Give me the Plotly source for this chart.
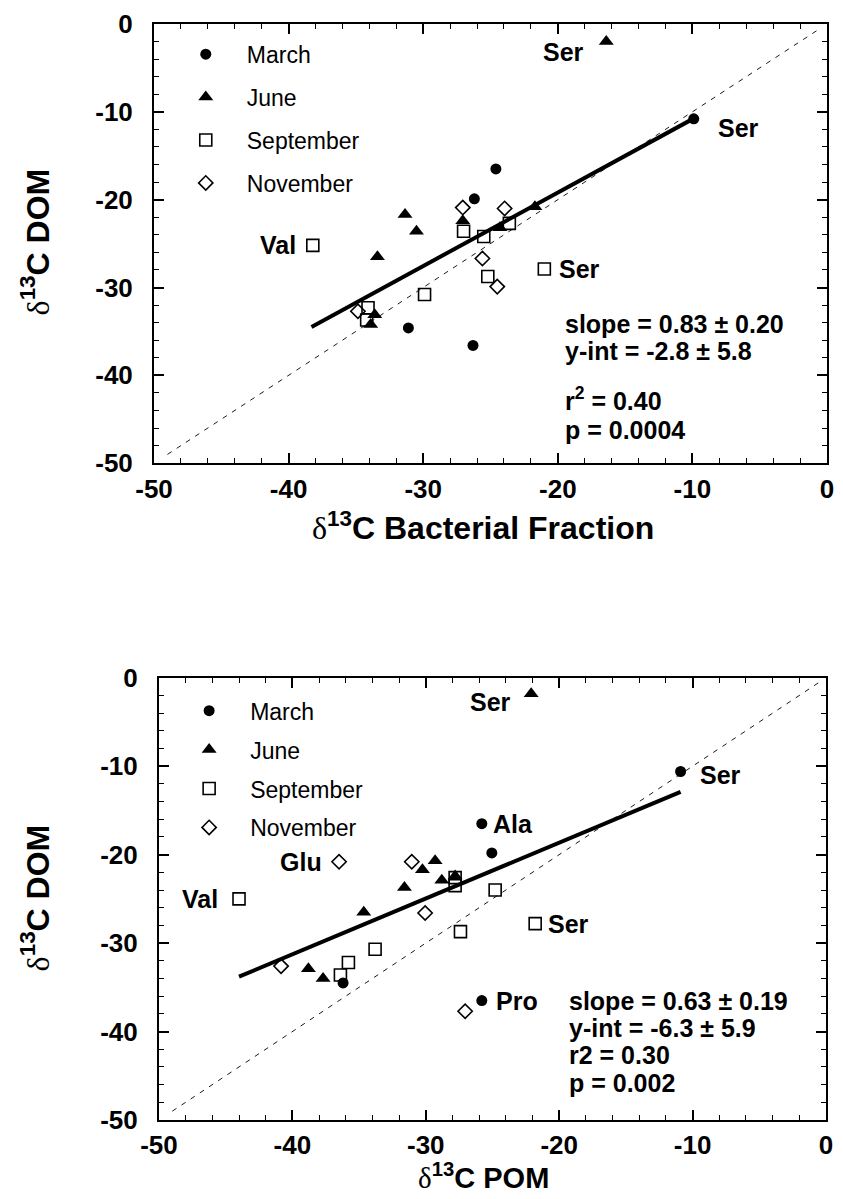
import plotly.graph_objects as go

# ---------------- data: top panel (x = d13C bacterial fraction, y = d13C DOM)
bact_march_x = [-9.9, -24.6, -26.2, -31.1, -26.3]
bact_march_y = [-10.8, -16.5, -19.9, -34.6, -36.6]
bact_june_x = [-16.4, -21.7, -31.35, -30.5, -33.4, -27.06, -24.3, -33.6, -33.9]
bact_june_y = [-2.0, -20.8, -21.7, -23.6, -26.5, -22.4, -23.2, -33.1, -34.2]
bact_sep_x = [-38.2, -21.0, -27.0, -25.5, -23.6, -25.2, -29.9, -34.1, -34.2]
bact_sep_y = [-25.2, -27.9, -23.6, -24.2, -22.7, -28.75, -30.8, -32.3, -33.7]
bact_nov_x = [-27.06, -23.95, -25.6, -24.5, -34.85]
bact_nov_y = [-20.9, -21.0, -26.7, -29.9, -32.7]
bact_fit_x = [-38.3, -10.2]
bact_fit_y = [-34.5, -11.0]

# ---------------- data: bottom panel (x = d13C POM, y = d13C DOM)
pom_march_x = [-10.9, -25.8, -25.05, -36.2, -25.8]
pom_march_y = [-10.6, -16.5, -19.8, -34.5, -36.5]
pom_june_x = [-22.1, -29.3, -30.25, -31.6, -28.8, -27.8, -34.65, -38.8, -37.7]
pom_june_y = [-1.8, -20.7, -21.7, -23.7, -22.9, -22.4, -26.5, -32.9, -34.0]
pom_sep_x = [-44.0, -21.8, -24.8, -27.8, -27.8, -27.4, -33.8, -35.8, -36.4]
pom_sep_y = [-25.0, -27.8, -24.0, -23.5, -22.6, -28.7, -30.7, -32.2, -33.6]
pom_nov_x = [-36.5, -31.05, -30.05, -27.05, -40.85]
pom_nov_y = [-20.8, -20.8, -26.6, -37.7, -32.6]
pom_fit_x = [-44.0, -10.9]
pom_fit_y = [-33.8, -12.9]

one_to_one = [-49.0, -0.5]

months = ["March", "June", "September", "November"]
tick_vals = [-50, -40, -30, -20, -10, 0]
tick_text = ["-50", "-40", "-30", "-20", "-10", "0"]

FONT = "Liberation Sans, Arial, Helvetica, sans-serif"

styles = {
    "March": dict(symbol="circle", size=11, color="black", line=dict(width=0)),
    "June": dict(symbol="triangle-up", size=13, color="black", line=dict(width=0)),
    "September": dict(symbol="square-open", size=12, color="black", line=dict(width=1.6)),
    "November": dict(symbol="diamond-open", size=11, color="black", line=dict(width=1.6)),
}

fig = go.Figure()

def add_panel(xa, ya, legend, series, fit_x, fit_y):
    fig.add_trace(go.Scatter(x=one_to_one, y=one_to_one, mode="lines",
                             line=dict(color="black", width=0.9, dash="5px,6px"),
                             xaxis=xa, yaxis=ya, showlegend=False, hoverinfo="skip"))
    fig.add_trace(go.Scatter(x=fit_x, y=fit_y, mode="lines",
                             line=dict(color="black", width=4),
                             xaxis=xa, yaxis=ya, showlegend=False, hoverinfo="skip"))
    for name, (xs, ys) in zip(months, series):
        fig.add_trace(go.Scatter(x=xs, y=ys, mode="markers", name=name,
                                 marker=styles[name], xaxis=xa, yaxis=ya,
                                 legend=legend, legendgroup=legend + name))

add_panel("x", "y", "legend",
          [(bact_march_x, bact_march_y), (bact_june_x, bact_june_y),
           (bact_sep_x, bact_sep_y), (bact_nov_x, bact_nov_y)],
          bact_fit_x, bact_fit_y)
add_panel("x2", "y2", "legend2",
          [(pom_march_x, pom_march_y), (pom_june_x, pom_june_y),
           (pom_sep_x, pom_sep_y), (pom_nov_x, pom_nov_y)],
          pom_fit_x, pom_fit_y)

axis_common = dict(
    range=[-50, 0], tickvals=tick_vals, ticktext=tick_text,
    ticks="inside", ticklen=10, tickwidth=1.5, tickcolor="black",
    showline=True, linecolor="black", linewidth=2, mirror="ticks",
    showgrid=False, zeroline=False,
    tickfont=dict(family=FONT, size=26, color="black", weight="bold"),
    minor=dict(dtick=2, ticks="inside", ticklen=5, tickwidth=1.3, tickcolor="black", showgrid=False),
)

fig.update_layout(
    width=843, height=1199,
    margin=dict(l=154, r=9, t=22, b=79),
    paper_bgcolor="white", plot_bgcolor="white",
    font=dict(family=FONT, color="black"),
    xaxis=dict(axis_common, domain=[0, 1], anchor="y", ticklabelstandoff=2),
    yaxis=dict(axis_common, domain=[0.5993, 1], anchor="x", ticklabelstandoff=14),
    xaxis2=dict(axis_common, domain=[0.0074, 0.9985], anchor="y2", ticklabelstandoff=1),
    yaxis2=dict(axis_common, domain=[0, 0.4035], anchor="x2", ticklabelstandoff=14),
    legend=dict(x=0.016, y=0.992, xanchor="left", yanchor="top",
                bgcolor="rgba(0,0,0,0)", font=dict(family=FONT, size=23, color="black"),
                itemwidth=72, tracegroupgap=10, borderwidth=0),
    legend2=dict(x=0.021, y=0.393, xanchor="left", yanchor="top",
                 bgcolor="rgba(0,0,0,0)", font=dict(family=FONT, size=23, color="black"),
                 itemwidth=72, tracegroupgap=6, borderwidth=0),
    showlegend=True,
)

ann = []
def lab(text, x, y, xref, yref, xanchor, xshift=0, yshift=0, size=25):
    ann.append(dict(text="<b>%s</b>" % text, x=x, y=y, xref=xref, yref=yref,
                    xanchor=xanchor, yanchor="middle", xshift=xshift, yshift=yshift,
                    showarrow=False, font=dict(family=FONT, size=size, color="black")))

# point labels, top panel
lab("Ser", bact_june_x[0], bact_june_y[0], "x", "y", "right", -20, -10)
lab("Ser", bact_march_x[0], bact_march_y[0], "x", "y", "left", 22, -9)
lab("Val", bact_sep_x[0], bact_sep_y[0], "x", "y", "right", -15, 0)
lab("Ser", bact_sep_x[1], bact_sep_y[1], "x", "y", "left", 13, 0)
# point labels, bottom panel
lab("Ser", pom_june_x[0], pom_june_y[0], "x2", "y2", "right", -18, -8)
lab("Ser", pom_march_x[0], pom_march_y[0], "x2", "y2", "left", 17, -3)
lab("Ala", pom_march_x[1], pom_march_y[1], "x2", "y2", "left", 9, 0)
lab("Pro", pom_march_x[4], pom_march_y[4], "x2", "y2", "left", 12, 0)
lab("Glu", pom_nov_x[0], pom_nov_y[0], "x2", "y2", "right", -15, 0)
lab("Val", pom_sep_x[0], pom_sep_y[0], "x2", "y2", "right", -19, 0)
lab("Ser", pom_sep_x[1], pom_sep_y[1], "x2", "y2", "left", 11, 0)

# statistics
top_stats = ["slope = 0.83 ± 0.20", "y-int = -2.8 ± 5.8", "r<sup>2</sup> = 0.40", "p = 0.0004"]
top_stats_y = [-34.1, -37.2, -42.7, -46.25]
for t, yy in zip(top_stats, top_stats_y):
    lab(t, -19.6, yy, "x", "y", "left", 0, 0, 25)
bot_stats = ["slope = 0.63 ± 0.19", "y-int = -6.3 ± 5.9", "r2 = 0.30", "p = 0.002"]
bot_stats_y = [-36.5, -39.6, -42.7, -45.8]
for t, yy in zip(bot_stats, bot_stats_y):
    lab(t, -19.45, yy, "x2", "y2", "left", 0, 0, 25)

DELTA = '<span style="font-family:Liberation Serif, Times New Roman, serif;font-weight:normal">δ</span>'

def title(text, x, y, angle=0, size=32):
    ann.append(dict(text="<b>%s</b>" % text, x=x, y=y, xref="paper", yref="paper",
                    xanchor="center", yanchor="middle", textangle=angle,
                    showarrow=False, font=dict(family=FONT, size=size, color="black")))

title(DELTA + "<sup>13</sup>C Bacterial Fraction", 0.489, 0.5419)
title(DELTA + "<sup>13</sup>C POM", 0.489, -0.0510, size=29)
title(DELTA + "<sup>13</sup>C DOM", -0.177, 0.8015, -90)
title(DELTA + "<sup>13</sup>C DOM", -0.177, 0.203, -90)

fig.update_layout(annotations=ann)
fig.write_html("out.html", config={"displayModeBar": False},
               post_script="document.body.style.margin='0';document.body.style.overflow='hidden';")
